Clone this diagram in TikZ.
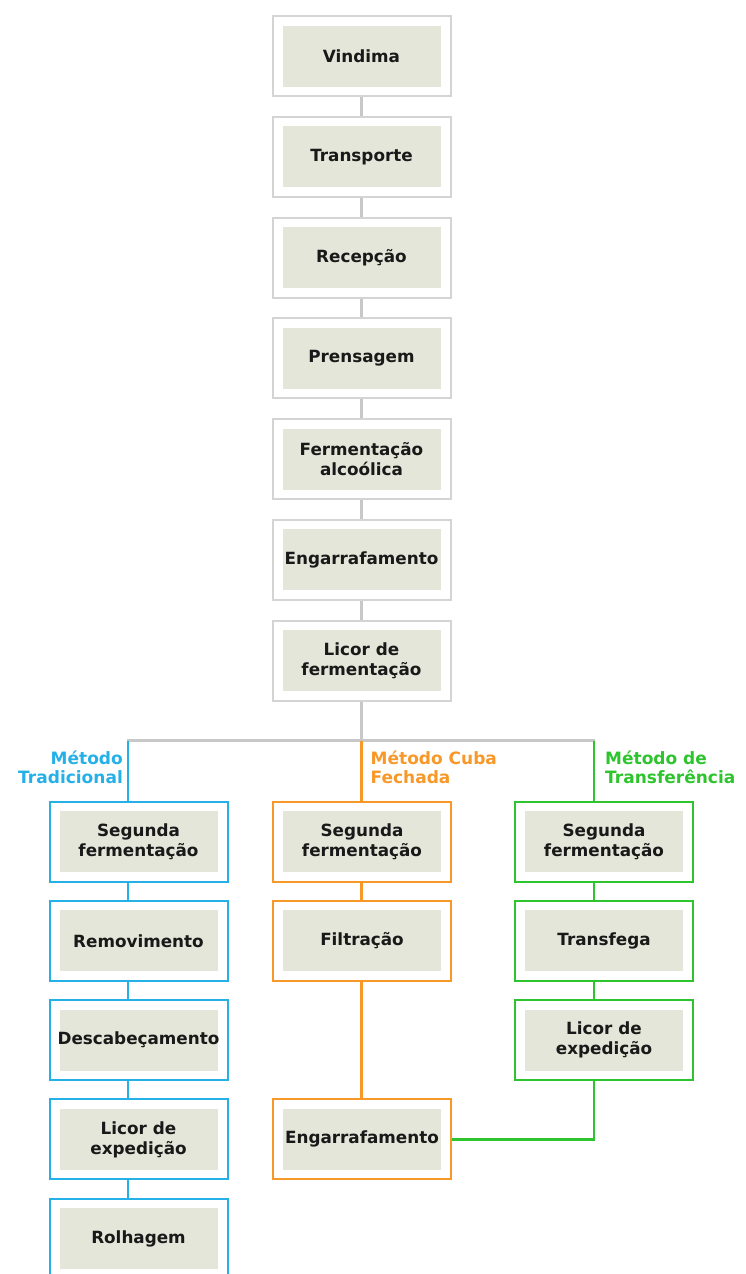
\documentclass[tikz,border=0pt]{standalone}
\usepackage{fontspec}
\setmainfont{DejaVu Sans}
\usetikzlibrary{positioning, calc}
\definecolor{framegray}{RGB}{212,212,212}
\definecolor{linegray}{RGB}{200,200,200}
\definecolor{innerfill}{RGB}{227,230,216}
\definecolor{tradblue}{RGB}{38,176,232}
\definecolor{cubaorange}{RGB}{248,152,40}
\definecolor{transgreen}{RGB}{46,196,46}
\definecolor{boxtext}{RGB}{25,25,25}

\begin{document}
\begin{tikzpicture}[
    x=1pt, y=1pt,
    node distance=18.75pt,
    stepbox/.style={rectangle, draw=#1, fill=white, line width=2pt, minimum width=178pt, minimum height=80pt, inner sep=0pt, align=center, text=boxtext, font=\fontsize{16.8}{20}\selectfont\bfseries,
        path picture={\fill[innerfill] ([shift={(10pt,9.5pt)}]path picture bounding box.south west) rectangle ([shift={(-10pt,-9.5pt)}]path picture bounding box.north east);}},
    stepbox/.default=framegray,
    method/.style={inner sep=0pt, font=\fontsize{17}{19}\selectfont\bfseries},
    link/.style={line width=2.5pt, #1},
    link/.default=linegray,
]
    \useasboundingbox (0,0) rectangle (746,-1274);

    % main column
    \node[stepbox] (vindima) at (361.5,-56) {Vindima};
    \node[stepbox, below=of vindima] (transporte) {Transporte};
    \node[stepbox, below=of transporte] (recepcao) {Recepção};
    \node[stepbox, below=of recepcao] (prensagem) {Prensagem};
    \node[stepbox, below=of prensagem] (fermalc) {Fermentação\\alcoólica};
    \node[stepbox, below=of fermalc] (engarraf) {Engarrafamento};
    \node[stepbox, below=of engarraf] (licorferm) {Licor de\\fermentação};

    \foreach \a/\b in {vindima/transporte, transporte/recepcao, recepcao/prensagem, prensagem/fermalc, fermalc/engarraf, engarraf/licorferm}
        \draw[link] (\a.south) -- (\b.north);

    % split into the three methods
    \coordinate (jtrad) at (128,-740.5);
    \coordinate (jcuba) at (361.5,-740.5);
    \coordinate (jtransf) at (594,-740.5);
    \draw[link] (licorferm.south) -- (jcuba);
    \draw[link] ([xshift=-1.25pt]jtrad) -- ([xshift=1.25pt]jtransf);

    \node[method, text=tradblue, align=right, anchor=north east] (lbltrad) at ($(jtrad)+(-5,-10)$) {Método\\Tradicional};
    \node[method, text=cubaorange, align=left, anchor=north west] (lblcuba) at ($(jcuba)+(9,-10)$) {Método Cuba\\Fechada};
    \node[method, text=transgreen, align=left, anchor=north west] (lbltransf) at ($(jtransf)+(11,-10)$) {Método de\\Transferência};

    % Metodo Tradicional
    \node[stepbox=tradblue] (trseg) at (138.5,-841.5) {Segunda\\fermentação};
    \node[stepbox=tradblue, below=17.3pt of trseg] (trrem) {Removimento};
    \node[stepbox=tradblue, below=17.3pt of trrem] (trdesc) {Descabeçamento};
    \node[stepbox=tradblue, below=17.3pt of trdesc] (trlicor) {Licor de\\expedição};
    \node[stepbox=tradblue, below=17.3pt of trlicor] (trrolh) {Rolhagem};

    % Metodo Cuba Fechada
    \node[stepbox=cubaorange] (cuseg) at (362,-841.5) {Segunda\\fermentação};
    \node[stepbox=cubaorange, below=17.3pt of cuseg] (cufilt) {Filtração};
    \node[stepbox=cubaorange] (cueng) at (trlicor -| cuseg) {Engarrafamento};

    % Metodo de Transferencia
    \node[stepbox=transgreen] (tfseg) at (604,-841.5) {Segunda\\fermentação};
    \node[stepbox=transgreen, below=17.3pt of tfseg] (tftrasf) {Transfega};
    \node[stepbox=transgreen, below=17.3pt of tftrasf] (tflicor) {Licor de\\expedição};

    \draw[link=tradblue] (jtrad) -- (trseg.north -| jtrad);
    \foreach \a/\b in {trseg/trrem, trrem/trdesc, trdesc/trlicor, trlicor/trrolh}
        \draw[link=tradblue] (\a.south -| jtrad) -- (\b.north -| jtrad);

    \draw[link=cubaorange] (jcuba) -- (cuseg.north -| jcuba);
    \foreach \a/\b in {cuseg/cufilt, cufilt/cueng}
        \draw[link=cubaorange] (\a.south -| jcuba) -- (\b.north -| jcuba);

    \draw[link=transgreen] (jtransf) -- (tfseg.north -| jtransf);
    \foreach \a/\b in {tfseg/tftrasf, tftrasf/tflicor}
        \draw[link=transgreen] (\a.south -| jtransf) -- (\b.north -| jtransf);
    \draw[link=transgreen] (tflicor.south -| jtransf) |- (cueng.east);
\end{tikzpicture}
\end{document}
